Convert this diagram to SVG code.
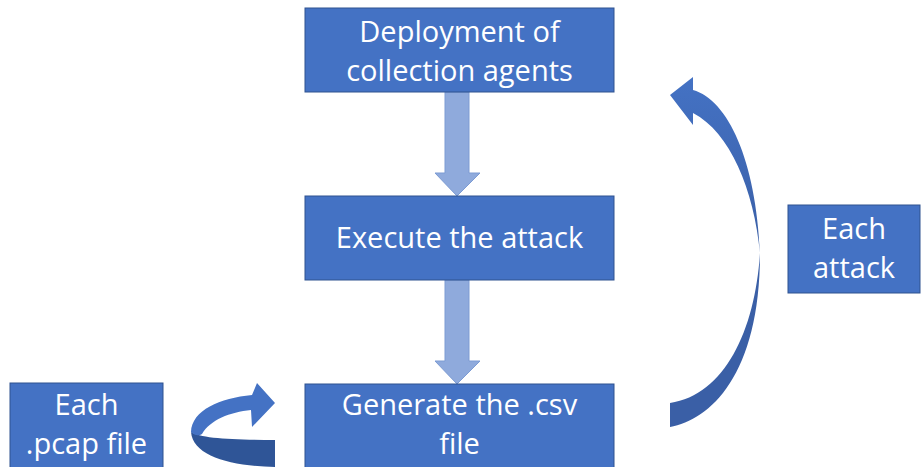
<svg xmlns="http://www.w3.org/2000/svg" width="922" height="467" viewBox="0 0 922 467">
  <defs>
    <style>
      .box { fill: #4472C4; stroke: #2F528F; stroke-width: 1; }
      .label { fill: #FFFFFF; font-family: "Open Sans", "Liberation Sans", sans-serif; font-size: 29px; text-anchor: middle; }
      .down { fill: #8FAADC; stroke: #7C9BD3; stroke-width: 1; }
      .front { fill: #4472C4; }
      .back { fill: #2F5597; }
    </style>
    <linearGradient id="loopShade" x1="0" y1="0" x2="0" y2="1">
      <stop offset="0" stop-color="#4472C4"/>
      <stop offset="1" stop-color="#3A5FA6"/>
    </linearGradient>
  </defs>

  <g id="connectors">
    <!-- straight flow arrows -->
    <path class="down" d="M445,92 L469,92 L469,173 L480,173 L457,196 L435,173 L445,173 Z"/>
    <path class="down" d="M445,280 L469,280 L469,361 L480,361 L457,384 L435,361 L445,361 Z"/>

    <!-- loop back for each attack: lower (back face) and upper (front face) halves -->
    <path fill="#3A5FA6" d="M670,427 C710,420 760,375 760,253 C755,330 725,395 670,403 Z"/>
    <path fill="url(#loopShade)" d="M693,90 C728,100 756,160 760,253 C754,190 730,132 693,113 L693,125 L670,95 L693,77 Z"/>

    <!-- loop for each .pcap file -->
    <path class="back" d="M191,432 C200,438 230,440 275,440 L275,467 C230,466 193,456 191,432 Z"/>
    <path class="front" d="M252,395 C220,398 192,410 191,432 C195,436 199,436 202,434 C210,420 230,412 251,410 L252,427 L275,403 L257,383 Z"/>
  </g>

  <g id="node-deploy">
    <rect class="box" x="305" y="8" width="309" height="84"/>
    <text class="label" x="459.5" y="42">Deployment of</text>
    <text class="label" x="459.5" y="81">collection agents</text>
  </g>

  <g id="node-execute">
    <rect class="box" x="305" y="196" width="309" height="84"/>
    <text class="label" x="459.5" y="248">Execute the attack</text>
  </g>

  <g id="node-generate">
    <rect class="box" x="305" y="384" width="309" height="90"/>
    <text class="label" x="459.5" y="415">Generate the .csv</text>
    <text class="label" x="459.5" y="454">file</text>
  </g>

  <g id="node-each-pcap">
    <rect class="box" x="10" y="383" width="153" height="90"/>
    <text class="label" x="86.5" y="415">Each</text>
    <text class="label" x="86.5" y="454">.pcap file</text>
  </g>

  <g id="node-each-attack">
    <rect class="box" x="788" y="205" width="132" height="88"/>
    <text class="label" x="854" y="239">Each</text>
    <text class="label" x="854" y="278">attack</text>
  </g>
</svg>
